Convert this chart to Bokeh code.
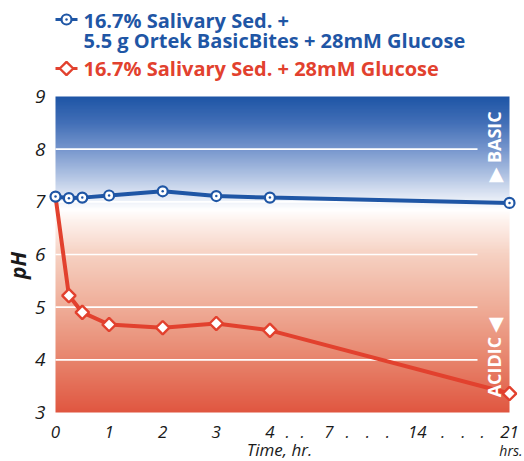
import numpy as np
from bokeh.plotting import figure
from bokeh.models import Range1d, Label
from bokeh.core.properties import value
from bokeh.embed import file_html
from bokeh.resources import INLINE

# ---------------- data ----------------
hours = [0, 0.25, 0.5, 1, 2, 3, 4, 21]
ph_basicbites = [7.10, 7.07, 7.08, 7.12, 7.20, 7.11, 7.08, 6.98]
ph_control = [7.10, 5.22, 4.90, 4.67, 4.61, 4.69, 4.56, 3.36]

y_ticks = [3, 4, 5, 6, 7, 8, 9]
y_tick_labels = ["3", "4", "5", "6", "7", "8", "9"]
x_tick_hours = [0, 1, 2, 3, 4, 7, 14, 21]
x_tick_labels = ["0", "1", "2", "3", "4", "7", "14", "21"]

label_basic_1 = "16.7% Salivary Sed. +"
label_basic_2 = "5.5 g Ortek BasicBites + 28mM Glucose"
label_control = "16.7% Salivary Sed. + 28mM Glucose"

# broken time axis (0-4 h linear, then compressed up to 21 h)
axis_hours = [0, 4, 7, 14, 21]
axis_pos = [0, 4, 5.10, 6.75, 8.47]


def to_pos(h):
    return np.interp(h, axis_hours, axis_pos)


# ---------------- layout ----------------
W, H = 524, 461
PL, PR = 55, 509      # canvas x of the plot area (0 h .. 21 h)
PT, PB = 96, 412      # canvas y of pH 9 .. pH 3
Y0, Y1 = 3, 9
XS = (PR - PL) / axis_pos[-1]
YS = (PB - PT) / (Y1 - Y0)
x_start = -PL / XS
y_top = Y1 + PT / YS


def cx(px):
    return x_start + px / XS


def cy(py):
    return y_top - py / YS


BLUE = "#1f56a5"
RED = "#e2412e"
TXT = "#1a1a1a"
FONT = "Open Sans"

p = figure(width=W, height=H, x_range=Range1d(cx(0), cx(W)), y_range=Range1d(cy(H), cy(0)),
           output_backend="svg", toolbar_location=None, min_border=0,
           background_fill_color="white", border_fill_color="white", outline_line_color=None)
p.axis.visible = False
p.grid.visible = False

# gradient background (blue = basic on top, red = acidic below)
stops_ph = [3.0, 4.0, 5.0, 6.0, 6.6, 6.85, 7.1, 7.5, 8.0, 8.5, 9.0]
stops_rgb = np.array([
    (224, 86, 64), (231, 132, 108), (239, 173, 152), (246, 209, 194), (253, 240, 234),
    (255, 255, 255), (226, 233, 245), (176, 195, 227), (118, 150, 205), (66, 111, 183),
    (30, 85, 166)], dtype=float)
N = 400
rows = Y0 + (np.arange(N) + 0.5) * (Y1 - Y0) / N
img = np.empty((N, 2), dtype=np.uint32)
view = img.view(dtype=np.uint8).reshape((N, 2, 4))
for k in range(3):
    col = np.interp(rows, stops_ph, stops_rgb[:, k])
    view[:, :, k] = np.round(col)[:, None].astype(np.uint8)
view[:, :, 3] = 255
p.image_rgba(image=[img], x=0, y=Y0, dw=axis_pos[-1], dh=Y1 - Y0, level="image")

# white gridlines (stop before the BASIC / ACIDIC captions)
grid_y = y_ticks[1:-1]
p.segment(x0=0, x1=cx(477), y0=grid_y, y1=grid_y, line_color="white", line_width=1.6,
          level="underlay")

xpos = to_pos(hours)
p.line(xpos, ph_control, line_color=RED, line_width=4)
p.scatter(xpos[1:], ph_control[1:], marker="square", angle=np.pi / 4, size=9.5,
          fill_color="white", line_color=RED, line_width=2.4)
p.line(xpos, ph_basicbites, line_color=BLUE, line_width=4)
p.scatter(xpos, ph_basicbites, marker="circle_dot", size=10,
          fill_color="white", line_color=BLUE, line_width=2.2)

# tick labels (y: pH, x: broken time scale)
p.text(x=[cx(45)] * len(y_ticks), y=y_ticks, text=y_tick_labels, text_align="right",
       text_baseline="middle", text_font=value(FONT), text_font_style="italic",
       text_font_size="19px", text_color=TXT)
p.text(x=to_pos(x_tick_hours), y=[cy(431)] * len(x_tick_hours), text=x_tick_labels,
       text_align="center", text_baseline="middle", text_font=value(FONT),
       text_font_style="italic", text_font_size="17px", text_color=TXT)
dot_pos = [4.33, 4.61, 5.45, 5.83, 6.20, 7.23, 7.61, 7.97]
p.text(x=dot_pos, y=[cy(431)] * len(dot_pos), text=["."] * len(dot_pos),
       text_align="center", text_baseline="middle", text_font=value(FONT),
       text_font_style="italic", text_font_size="17px", text_color=TXT)

# captions
p.add_layout(Label(x=cx(17), y=cy(265), text="pH", angle=np.pi / 2, text_align="center",
                   text_baseline="middle", text_font=FONT, text_font_style="bold italic",
                   text_font_size="21px", text_color=TXT))
p.add_layout(Label(x=cx(279), y=cy(449), text="Time, hr.", text_align="center",
                   text_baseline="middle", text_font=FONT, text_font_style="italic",
                   text_font_size="17px", text_color=TXT))
p.add_layout(Label(x=cx(522), y=cy(450), text="hrs.", text_align="right",
                   text_baseline="middle", text_font=FONT, text_font_style="italic",
                   text_font_size="14px", text_color=TXT))
side_x = cx(493)
p.add_layout(Label(x=side_x, y=8.05, text="\u25B6 BASIC", angle=np.pi / 2, text_align="center",
                   text_baseline="middle", text_font=FONT, text_font_style="bold",
                   text_font_size="18px", text_color="white"))
p.add_layout(Label(x=side_x, y=4.04, text="ACIDIC \u25C0", angle=np.pi / 2, text_align="center",
                   text_baseline="middle", text_font=FONT, text_font_style="bold",
                   text_font_size="18px", text_color="white"))

# legend (swatch: short line + marker, then text)
sw_x0, sw_x1, sw_xm = cx(55), cx(77), cx(66)
sw_y = [cy(19), cy(68)]
sw_col = [BLUE, RED]
p.segment(x0=[sw_x0] * 2, x1=[sw_x1] * 2, y0=sw_y, y1=sw_y, line_color=sw_col, line_width=3)
p.scatter([sw_xm], [sw_y[0]], marker="circle_dot", size=10, fill_color="white",
          line_color=BLUE, line_width=2.2)
p.scatter([sw_xm], [sw_y[1]], marker="square", angle=np.pi / 4, size=9.5, fill_color="white",
          line_color=RED, line_width=2.4)
for txt, col, mid in [(label_basic_1, BLUE, 19.5), (label_basic_2, BLUE, 39.5),
                      (label_control, RED, 67.5)]:
    p.add_layout(Label(x=cx(83), y=cy(mid), text=txt, text_align="left",
                       text_baseline="middle", text_font=FONT, text_font_style="bold",
                       text_font_size="20px", text_color=col))

open("out.html", "w").write(file_html(p, INLINE))
